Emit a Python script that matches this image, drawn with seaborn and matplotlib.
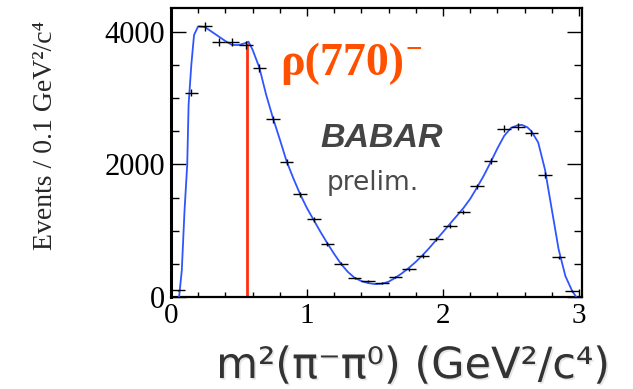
import numpy as np
import matplotlib.pyplot as plt
import matplotlib.patheffects as pe
from matplotlib.ticker import MultipleLocator
import seaborn as sns

# data points (0.1 GeV^2 bins)
bin_centers = [0.05, 0.15, 0.25, 0.35, 0.45, 0.55, 0.65, 0.75, 0.85, 0.95,
               1.05, 1.15, 1.25, 1.35, 1.45, 1.55, 1.65, 1.75, 1.85, 1.95,
               2.05, 2.15, 2.25, 2.35, 2.45, 2.55, 2.65, 2.75, 2.85, 2.95]
counts = [100, 3080, 4080, 3840, 3840, 3800, 3450, 2680, 2030, 1550,
          1170, 800, 500, 290, 240, 210, 300, 420, 620, 870,
          1070, 1280, 1670, 2045, 2540, 2570, 2470, 1840, 600, 90]
bin_half = 0.05

# fit curve
fit_x = [0.06, 0.08, 0.10, 0.12, 0.13, 0.15, 0.17, 0.20, 0.25, 0.30,
         0.35, 0.40, 0.45, 0.50, 0.55, 0.57, 0.60, 0.65, 0.70, 0.75,
         0.80, 0.85, 0.90, 0.95, 1.00, 1.05, 1.10, 1.15, 1.20, 1.25,
         1.30, 1.35, 1.40, 1.45, 1.50, 1.55, 1.60, 1.65, 1.70, 1.75,
         1.80, 1.85, 1.90, 1.95, 2.00, 2.05, 2.10, 2.15, 2.20, 2.25,
         2.30, 2.35, 2.40, 2.45, 2.50, 2.55, 2.58, 2.62, 2.65, 2.70,
         2.75, 2.80, 2.85, 2.90, 2.95, 2.98]
fit_y = [0, 400, 1300, 2000, 2900, 3500, 3950, 4080, 4070, 4000,
         3930, 3860, 3800, 3800, 3830, 3850, 3730, 3460, 3050, 2700,
         2380, 2050, 1790, 1550, 1340, 1160, 980, 810, 650, 500,
         380, 290, 240, 210, 195, 200, 230, 290, 360, 440,
         530, 630, 740, 860, 980, 1100, 1220, 1340, 1480, 1650,
         1830, 2030, 2240, 2430, 2550, 2590, 2595, 2560, 2500, 2330,
         1920, 1320, 720, 315, 90, 0]

rho_x = 0.56
rho_top = 3830

sns.set_style('ticks')
plt.rcParams['font.family'] = ['Liberation Serif', 'DejaVu Serif']

fig = plt.figure(figsize=(6.33, 3.89), dpi=100)
ax = fig.add_axes([0.270, 0.2365, 0.649, 0.7425])

ax.vlines(rho_x, 0, rho_top, color='#ff3010', lw=2.0, zorder=2)

sns.lineplot(x=fit_x, y=fit_y, ax=ax, color='#2f55ff', lw=1.3,
             estimator=None, sort=False, zorder=3)

ax.errorbar(bin_centers, counts, xerr=bin_half, yerr=np.sqrt(counts),
            fmt='none', ecolor='k', elinewidth=1.0, capsize=0, zorder=4)

ax.set_xlim(0, 3.02)
ax.set_ylim(0, 4355)
ax.set_xticks([0, 1, 2, 3])
ax.xaxis.set_minor_locator(MultipleLocator(0.2))
ax.yaxis.set_major_locator(MultipleLocator(2000))
ax.yaxis.set_minor_locator(MultipleLocator(500))
ax.tick_params(which='both', direction='in', top=True, right=True,
               colors='k', width=1.0)
ax.tick_params(axis='y', which='major', length=10.5, pad=4, labelsize=22)
ax.tick_params(axis='y', which='minor', length=5.5)
ax.tick_params(axis='x', which='major', length=6, pad=4, labelsize=21)
ax.tick_params(axis='x', which='minor', length=3.8)
for s in ax.spines.values():
    s.set_linewidth(1.6)
    s.set_color('k')
ax.spines['left'].set_linewidth(2.2)
ax.set_xlabel('')
ax.set_ylabel('')

# labels and annotations
ax.text(0.265, 0.768, 'ρ(770)', transform=ax.transAxes, fontsize=33,
        fontweight='bold', color='#ff5000', ha='left', va='baseline')
ax.text(0.572, 0.855, '\u2212', transform=ax.transAxes, fontsize=21,
        fontweight='bold', color='#ff5000', ha='left', va='center')
ax.text(0.365, 0.519, 'BABAR', transform=ax.transAxes, fontsize=24.5,
        fontweight='bold', fontstyle='italic', family='Liberation Sans',
        color='#444444', ha='left', va='baseline')
ax.text(0.380, 0.370, 'prelim.', transform=ax.transAxes, fontsize=19,
        family='DejaVu Sans', color='#4a4a4a', ha='left', va='baseline')

fig.text(0.072, 0.652, 'Events / 0.1 GeV\u00b2/c\u2074', rotation=90,
         ha='center', va='center', fontsize=20)
fig.text(0.652, 0.059, 'm\u00b2(\u03c0\u207b\u03c0\u2070) (GeV\u00b2/c\u2074)',
         ha='center', va='center', fontsize=31, family='DejaVu Sans',
         color='#333333',
         path_effects=[pe.withSimplePatchShadow(offset=(1.2, -1.2),
                                                shadow_rgbFace='#aaaaaa',
                                                alpha=0.3)])

fig.savefig('out.png', dpi=100)
